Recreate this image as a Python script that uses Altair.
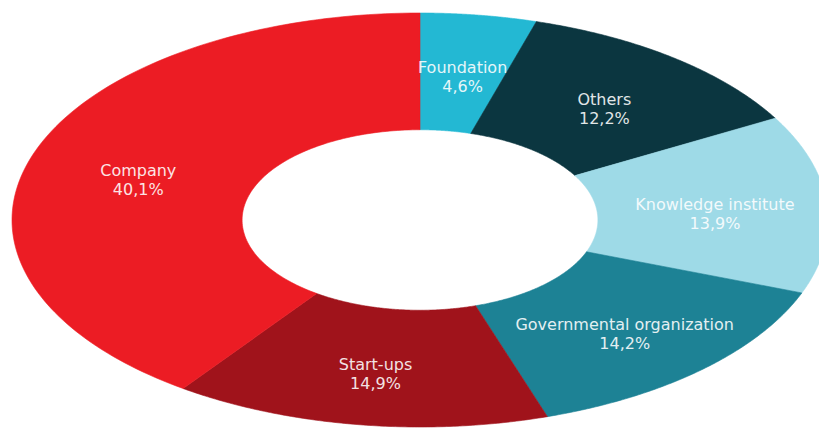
import altair as alt
import numpy as np
import pandas as pd

categories = ["Foundation", "Others", "Knowledge institute",
              "Governmental organization", "Start-ups", "Company"]
values = [4.6, 12.2, 13.9, 14.2, 14.9, 40.1]
value_labels = ["4,6%", "12,2%", "13,9%", "14,2%", "14,9%", "40,1%"]
colors = ["#23b8d3", "#0b3640", "#9edae7", "#1d8295", "#a0131b", "#ec1c24"]

INNER = 0.436   # inner radius as a fraction of the outer radius
LABEL_R = 0.725
N = 120

total = sum(values)
rows = []
labels = []
start = 0.0
for cat, v, lab in zip(categories, values, value_labels):
    end = start + v / total
    a0, a1 = 2 * np.pi * start, 2 * np.pi * end
    outer = np.linspace(a0, a1, N)
    inner = np.linspace(a1, a0, N)
    i = 0
    for a in outer:
        rows.append({"cat": cat, "i": i, "u": np.sin(a), "v": np.cos(a)}); i += 1
    for a in inner:
        rows.append({"cat": cat, "i": i, "u": INNER * np.sin(a), "v": INNER * np.cos(a)}); i += 1
    rows.append({"cat": cat, "i": i, "u": np.sin(a0), "v": np.cos(a0)})
    mid = (a0 + a1) / 2
    labels.append({"cat": cat, "u": LABEL_R * np.sin(mid), "v": LABEL_R * np.cos(mid),
                   "txt": cat + "\n" + lab})
    start = end

poly = pd.DataFrame(rows)
lab = pd.DataFrame(labels)

xs = alt.Scale(domain=[(0 - 420) / 408, (819 - 420) / 408], nice=False, zero=False)
ys = alt.Scale(domain=[(220 - 430) / 207, 220 / 207], nice=False, zero=False)
cs = alt.Scale(domain=categories, range=colors)

slices = alt.Chart(poly).mark_line(filled=True, strokeWidth=0.6, interpolate="linear").encode(
    x=alt.X("u:Q", scale=xs, axis=None),
    y=alt.Y("v:Q", scale=ys, axis=None),
    fill=alt.Fill("cat:N", scale=cs, legend=None),
    stroke=alt.Stroke("cat:N", scale=cs, legend=None),
    detail="cat:N",
    order="i:Q",
)

text = alt.Chart(lab).mark_text(
    font="DejaVu Sans", fontSize=16, color="#ffffff", opacity=0.88,
    lineBreak="\n", align="center", baseline="middle", dy=-3, lineHeight=19,
).encode(
    x=alt.X("u:Q", scale=xs, axis=None),
    y=alt.Y("v:Q", scale=ys, axis=None),
    text="txt:N",
)

chart = alt.layer(slices, text).properties(
    width=819, height=430, padding=0, autosize=alt.AutoSizeParams(type="none"),
    background="white",
).configure_view(stroke=None)

chart.save("out.html", embed_options={"renderer": "svg", "actions": False})
